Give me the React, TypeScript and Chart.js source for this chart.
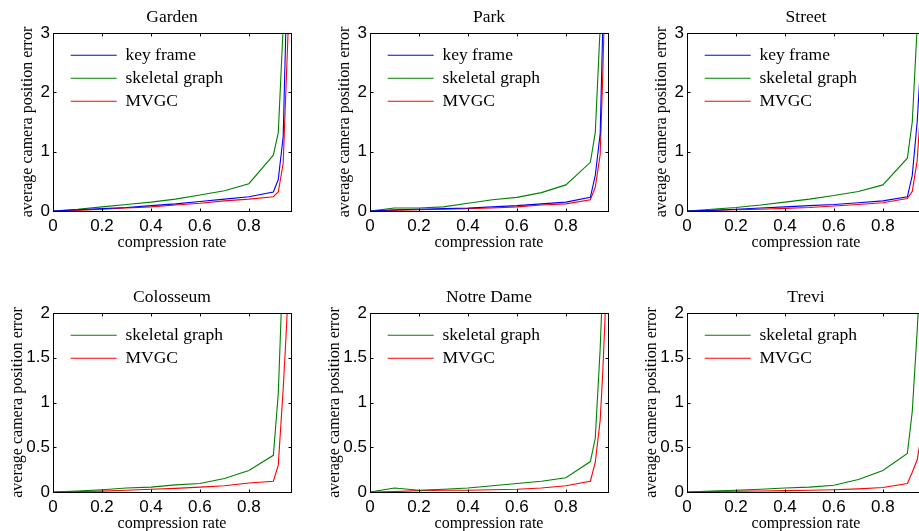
import React, { useEffect, useRef } from 'react';
import { Chart, registerables } from 'chart.js';

Chart.register(...registerables);

// ---------- data ----------
const compressionRate = [0, 0.1, 0.2, 0.3, 0.4, 0.5, 0.6, 0.7, 0.8, 0.9, 0.92, 0.94, 0.95, 0.96, 0.97];
const xTickValues = [0, 0.2, 0.4, 0.6, 0.8];
const yTicksTop = [0, 1, 2, 3];
const yTicksBottom = [0, 0.5, 1, 1.5, 2];

const gardenKeyFrame = [0, 0.02, 0.04, 0.06, 0.09, 0.12, 0.16, 0.2, 0.24, 0.32, 0.53, 1.25, 2.9, 5.5, 8];
const gardenSkeletal = [0, 0.03, 0.07, 0.11, 0.15, 0.2, 0.27, 0.34, 0.46, 0.94, 1.32, 3.1, 5, 7, 9];
const gardenMVGC = [0, 0.01, 0.03, 0.05, 0.07, 0.1, 0.13, 0.17, 0.2, 0.24, 0.32, 0.8, 1.9, 3.0, 6];

const parkKeyFrame = [0, 0.02, 0.03, 0.04, 0.05, 0.07, 0.09, 0.12, 0.15, 0.23, 0.6, 1.3, 3.0, 6, 9];
const parkSkeletal = [0, 0.05, 0.05, 0.07, 0.13, 0.19, 0.23, 0.31, 0.44, 0.82, 1.32, 3.1, 5, 7, 9];
const parkMVGC = [0, 0.01, 0.02, 0.03, 0.04, 0.05, 0.07, 0.1, 0.12, 0.19, 0.4, 0.95, 2.2, 3.8, 6];

const streetKeyFrame = [0, 0.01, 0.03, 0.05, 0.07, 0.09, 0.11, 0.14, 0.17, 0.24, 0.6, 1.5, 2.2, 4, 6];
const streetSkeletal = [0, 0.03, 0.06, 0.1, 0.15, 0.2, 0.26, 0.33, 0.44, 0.89, 1.5, 3.1, 5, 7, 9];
const streetMVGC = [0, 0.01, 0.02, 0.03, 0.045, 0.06, 0.085, 0.11, 0.14, 0.21, 0.33, 0.85, 1.45, 2.6, 4];

const colosseumSkeletal = [0, 0.01, 0.025, 0.045, 0.055, 0.08, 0.095, 0.15, 0.24, 0.41, 1.1, 2.6, 4, 6, 8];
const colosseumMVGC = [0, 0.005, 0.01, 0.02, 0.03, 0.04, 0.055, 0.07, 0.1, 0.12, 0.3, 1.15, 1.65, 2.2, 4];

const notreDameSkeletal = [0, 0.045, 0.02, 0.03, 0.045, 0.07, 0.095, 0.12, 0.16, 0.34, 0.6, 1.6, 2.3, 4, 6];
const notreDameMVGC = [0, 0.005, 0.015, 0.02, 0.02, 0.025, 0.03, 0.045, 0.07, 0.12, 0.33, 0.8, 1.3, 1.95, 3];

const treviSkeletal = [0, 0.01, 0.02, 0.03, 0.045, 0.055, 0.075, 0.14, 0.24, 0.43, 0.9, 1.8, 2.3, 4, 6];
const treviMVGC = [0, 0.005, 0.01, 0.012, 0.015, 0.02, 0.025, 0.035, 0.05, 0.095, 0.22, 0.36, 0.52, 1.2, 2.5];

// ---------- style / layout ----------
const SERIF = '"Liberation Serif", "Times New Roman", serif';
const SANS = '"Liberation Sans", Arial, sans-serif';
const BLUE = '#0000ff';
const GREEN = '#008000';
const RED = '#ff0000';
const X_MAX = 0.972;
const Y_AXIS_W = 53;
const TITLE_H = 33;
const X_AXIS_H = 45;
const PLOT_W = 238;
const PAD_R = 12;

type Series = { label: string; color: string; values: number[] };
type PanelDef = {
  title: string;
  left: number;
  top: number;
  plotHeight: number;
  yMax: number;
  yTicks: number[];
  yTitleGap: number;
  series: Series[];
};

const panels: PanelDef[] = [
  {
    title: 'Garden', left: 0, top: 0, plotHeight: 178, yMax: 3, yTicks: yTicksTop, yTitleGap: 20,
    series: [
      { label: 'key frame', color: BLUE, values: gardenKeyFrame },
      { label: 'skeletal graph', color: GREEN, values: gardenSkeletal },
      { label: 'MVGC', color: RED, values: gardenMVGC },
    ],
  },
  {
    title: 'Park', left: 317, top: 0, plotHeight: 178, yMax: 3, yTicks: yTicksTop, yTitleGap: 20,
    series: [
      { label: 'key frame', color: BLUE, values: parkKeyFrame },
      { label: 'skeletal graph', color: GREEN, values: parkSkeletal },
      { label: 'MVGC', color: RED, values: parkMVGC },
    ],
  },
  {
    title: 'Street', left: 634, top: 0, plotHeight: 178, yMax: 3, yTicks: yTicksTop, yTitleGap: 20,
    series: [
      { label: 'key frame', color: BLUE, values: streetKeyFrame },
      { label: 'skeletal graph', color: GREEN, values: streetSkeletal },
      { label: 'MVGC', color: RED, values: streetMVGC },
    ],
  },
  {
    title: 'Colosseum', left: 0, top: 280, plotHeight: 179, yMax: 2, yTicks: yTicksBottom, yTitleGap: 10,
    series: [
      { label: 'skeletal graph', color: GREEN, values: colosseumSkeletal },
      { label: 'MVGC', color: RED, values: colosseumMVGC },
    ],
  },
  {
    title: 'Notre Dame', left: 317, top: 280, plotHeight: 179, yMax: 2, yTicks: yTicksBottom, yTitleGap: 10,
    series: [
      { label: 'skeletal graph', color: GREEN, values: notreDameSkeletal },
      { label: 'MVGC', color: RED, values: notreDameMVGC },
    ],
  },
  {
    title: 'Trevi', left: 634, top: 280, plotHeight: 179, yMax: 2, yTicks: yTicksBottom, yTitleGap: 10,
    series: [
      { label: 'skeletal graph', color: GREEN, values: treviSkeletal },
      { label: 'MVGC', color: RED, values: treviMVGC },
    ],
  },
];

// MATLAB-like box with inward tick marks on all four sides
const framePlugin = {
  id: 'matlabFrame',
  afterDatasetsDraw(chart: any) {
    const { ctx, chartArea: a, scales } = chart;
    const L = Math.round(a.left) + 0.5;
    const R = Math.round(a.right) + 0.5;
    const T = Math.round(a.top) + 0.5;
    const B = Math.round(a.bottom) + 0.5;
    const len = 3;
    ctx.save();
    ctx.strokeStyle = '#000';
    ctx.lineWidth = 1;
    ctx.strokeRect(L, T, R - L, B - T);
    ctx.beginPath();
    for (const t of scales.x.ticks) {
      const px = Math.round(scales.x.getPixelForValue(t.value)) + 0.5;
      ctx.moveTo(px, B); ctx.lineTo(px, B - len);
      ctx.moveTo(px, T); ctx.lineTo(px, T + len);
    }
    for (const t of scales.y.ticks) {
      const py = Math.round(scales.y.getPixelForValue(t.value)) + 0.5;
      ctx.moveTo(L, py); ctx.lineTo(L + len, py);
      ctx.moveTo(R, py); ctx.lineTo(R - len, py);
    }
    ctx.stroke();
    ctx.restore();
  },
};

// put the legend inside the axes, upper-left, like MATLAB's "NorthWest"
const legendPlacer = {
  id: 'legendPlacer',
  afterLayout(chart: any) {
    const lg = chart.legend;
    if (!lg) return;
    const a = chart.chartArea;
    const w = lg.width;
    const h = lg.height;
    lg.left = a.left + 12.2;
    lg.top = a.top + 8.0;
    lg.right = lg.left + w;
    lg.bottom = lg.top + h;
  },
};

function Panel({ def }: { def: PanelDef }) {
  const ref = useRef<HTMLCanvasElement>(null);
  const width = Y_AXIS_W + PLOT_W + PAD_R;
  const height = TITLE_H + def.plotHeight + X_AXIS_H;

  useEffect(() => {
    if (!ref.current) return;
    const chart = new Chart(ref.current, {
      type: 'line',
      data: {
        datasets: def.series.map((s) => ({
          label: s.label,
          data: compressionRate.map((x, i) => ({ x, y: s.values[i] })),
          borderColor: s.color,
          backgroundColor: s.color,
          pointBorderColor: s.color,
          pointBackgroundColor: s.color,
          pointBorderWidth: 1.2,
          borderWidth: 1.1,
          pointRadius: 0,
          pointHoverRadius: 0,
          tension: 0,
          fill: false,
        })),
      },
      options: {
        responsive: false,
        animation: false,
        events: [],
        layout: { padding: { left: 0, top: 0, right: PAD_R, bottom: 0 }, autoPadding: false },
        scales: {
          x: {
            type: 'linear',
            min: 0,
            max: X_MAX,
            afterBuildTicks: (s: any) => { s.ticks = xTickValues.map((value) => ({ value })); },
            afterFit: (s: any) => { s.height = X_AXIS_H; },
            grid: { display: false, drawTicks: false },
            border: { display: false },
            ticks: {
              color: '#000',
              font: { family: SANS, size: 17 },
              padding: 5,
              maxRotation: 0,
              autoSkip: false,
              callback: (v: any) => String(v),
            },
            title: {
              display: true,
              text: 'compression rate',
              color: '#000',
              font: { family: SERIF, size: 16, lineHeight: '16px' },
              padding: { top: 0, bottom: 5.5 },
            },
          },
          y: {
            type: 'linear',
            min: 0,
            max: def.yMax,
            afterBuildTicks: (s: any) => { s.ticks = def.yTicks.map((value) => ({ value })); },
            afterFit: (s: any) => { s.width = Y_AXIS_W; },
            grid: { display: false, drawTicks: false },
            border: { display: false },
            ticks: {
              color: '#000',
              font: { family: SANS, size: 17 },
              padding: 3,
              autoSkip: false,
              callback: (v: any) => String(v),
            },
            title: {
              display: true,
              text: 'average camera position error',
              color: '#000',
              font: { family: SERIF, size: 16, lineHeight: '16px' },
              padding: { top: def.yTitleGap, bottom: 0 },
            },
          },
        },
        plugins: {
          title: {
            display: true,
            text: def.title,
            color: '#000',
            fullSize: false,
            font: { family: SERIF, size: 17.5, weight: 'normal', lineHeight: '18px' },
            padding: { top: 8, bottom: 7 },
          },
          legend: {
            display: true,
            position: 'chartArea',
            align: 'start',
            labels: {
              usePointStyle: true,
              pointStyle: 'line',
              pointStyleWidth: 46,
              padding: 5.5,
              color: '#000',
              font: { family: SERIF, size: 17.5 },
            },
          },
          tooltip: { enabled: false },
        },
      } as any,
      plugins: [framePlugin, legendPlacer],
    });
    return () => chart.destroy();
  }, []);

  return (
    <canvas
      ref={ref}
      width={width}
      height={height}
      style={{ position: 'absolute', left: def.left, top: def.top, width, height }}
    />
  );
}

export default function App() {
  return (
    <div
      style={{
        position: 'absolute',
        left: 0,
        top: 0,
        width: 919,
        height: 531,
        overflow: 'hidden',
        background: '#fff',
      }}
    >
      {panels.map((p) => (
        <Panel key={p.title} def={p} />
      ))}
    </div>
  );
}
